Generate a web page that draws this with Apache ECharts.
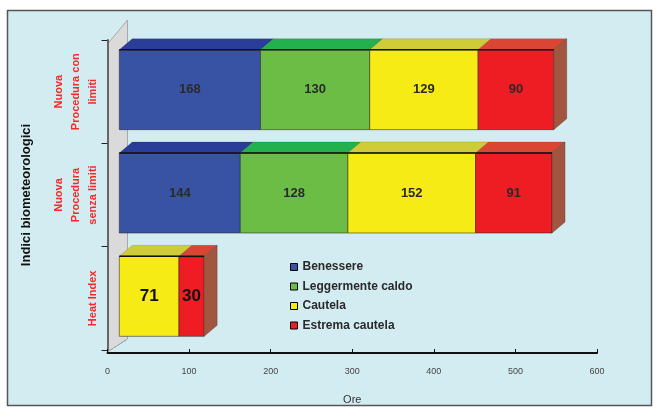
<!DOCTYPE html>
<html>
<head>
<meta charset="utf-8">
<script src="https://cdn.jsdelivr.net/npm/echarts@6/dist/echarts.min.js"></script>
<style>
html,body{margin:0;padding:0;background:#fff;}
#c{width:659px;height:410px;}
</style>
</head>
<body>
<div id="c"></div>
<script>
// ---- data ----
const categories = ['Heat Index', 'Nuova\nProcedura\nsenza limiti', 'Nuova\nProcedura con\nlimiti'];
const seriesNames = ['Benessere', 'Leggermente caldo', 'Cautela', 'Estrema cautela'];
const benessere  = [0, 144, 168];
const leggermente = [0, 128, 130];
const cautela    = [71, 152, 129];
const estrema    = [30, 91, 90];
const xTicks = [0, 100, 200, 300, 400, 500, 600];

// ---- style ----
const FRONT = ['#3853a4', '#6bbd45', '#f6eb14', '#ee1d24'];
const TOP   = ['#293d99', '#22b14c', '#cfcc3a', '#db4634'];
const SIDE  = '#a3563f';
const GRID = {left: 107.5, right: 62, top: 40, bottom: 60};
const OFFX = 11.8, DX = 13, DY = 11, K = 1.03;

const values = [benessere, leggermente, cautela, estrema];
// stack into [start, end, catIndex, value, isLast]
const stacked = values.map(() => []);
for (let c = 0; c < categories.length; c++) {
  let acc = 0, lastS = -1;
  for (let s = 0; s < values.length; s++) if (values[s][c] > 0) lastS = s;
  for (let s = 0; s < values.length; s++) {
    const v = values[s][c];
    if (v > 0) {
      stacked[s].push([acc, acc + v, c, v, s === lastS ? 1 : 0]);
      acc += v;
    }
  }
}

function makeRender(si) {
  return function (params, api) {
    const s = api.value(0), e = api.value(1), ci = api.value(2), v = api.value(3), last = api.value(4);
    const p0 = api.coord([0, ci]);
    const ps = api.coord([s, ci]);
    const pe = api.coord([e, ci]);
    const X0 = p0[0];
    const x1 = X0 + OFFX + (ps[0] - X0) * K;
    const x2 = X0 + OFFX + (pe[0] - X0) * K;
    const band = api.size([0, 1])[1];
    const hh = band * 0.387;
    const yc = ps[1] - 2;
    const yt = yc - hh, yb = yc + hh;
    const children = [];
    children.push({
      type: 'polygon',
      shape: {points: [[x1, yt], [x2, yt], [x2 + DX, yt - DY], [x1 + DX, yt - DY]]},
      style: {fill: TOP[si], stroke: 'rgba(0,0,0,0.25)', lineWidth: 0.5}
    });
    children.push({
      type: 'rect',
      shape: {x: x1, y: yt, width: x2 - x1, height: yb - yt},
      style: {fill: FRONT[si], stroke: 'rgba(40,40,40,0.7)', lineWidth: 0.8}
    });
    children.push({
      type: 'line',
      shape: {x1: x1, y1: yt, x2: x2, y2: yt},
      style: {stroke: '#111', lineWidth: 1.5}
    });
    if (last) {
      children.push({
        type: 'polygon',
        shape: {points: [[x2, yt], [x2 + DX, yt - DY], [x2 + DX, yb - DY], [x2, yb]]},
        style: {fill: SIDE, stroke: 'rgba(0,0,0,0.35)', lineWidth: 0.6}
      });
    }
    const big = ci === 0;
    children.push({
      type: 'text',
      x: (x1 + x2) / 2,
      y: yc,
      style: {
        text: String(v),
        align: 'center',
        verticalAlign: 'middle',
        fontSize: big ? 17 : 13,
        fontWeight: 'bold',
        fontFamily: 'Liberation Sans, Arial, sans-serif',
        fill: big ? '#111' : '#2a2a2a'
      }
    });
    return {type: 'group', children: children};
  };
}

const chart = echarts.init(document.getElementById('c'), null, {renderer: 'canvas'});

const X0 = GRID.left;
const plotBottom = 410 - GRID.bottom;
const WALL = 20;
const option = {
  backgroundColor: '#ffffff',
  animation: false,
  graphic: [
    {
      type: 'rect', z: -20, silent: true,
      shape: {x: 7.5, y: 10.5, width: 644, height: 395},
      style: {fill: '#d3ecf1', stroke: '#555', lineWidth: 1.5}
    },
    {
      type: 'polygon', z: -10, silent: true,
      shape: {points: [[X0, plotBottom + 2], [X0, GRID.top + 4], [X0 + WALL, GRID.top - 20], [X0 + WALL, plotBottom - 11]]},
      style: {fill: '#dadada', stroke: '#a8a8a8', lineWidth: 1}
    },
    {
      type: 'line', z: -9, silent: true,
      shape: {x1: X0, y1: plotBottom + 2, x2: X0 + WALL, y2: plotBottom - 11},
      style: {stroke: '#9a9a9a', lineWidth: 1, lineDash: [2, 2]}
    }
  ],
  legend: {
    orient: 'vertical',
    left: 285,
    top: 255,
    itemWidth: 7,
    itemHeight: 7,
    itemGap: 5.5,
    selectedMode: false,
    textStyle: {fontSize: 12, fontWeight: 'bold', color: '#2a2a2a', lineHeight: 14, fontFamily: 'Liberation Sans, Arial, sans-serif'},
    data: seriesNames.map((n, i) => ({name: n, icon: 'rect', itemStyle: {color: FRONT[i], borderColor: '#000', borderWidth: 1}}))
  },
  grid: GRID,
  xAxis: {
    type: 'value',
    min: xTicks[0],
    max: xTicks[xTicks.length - 1],
    interval: xTicks[1] - xTicks[0],
    offset: 3,
    axisLine: {show: true, lineStyle: {color: '#111', width: 2}},
    axisTick: {show: true, inside: true, length: 4, lineStyle: {color: '#111'}},
    splitLine: {show: false},
    axisLabel: {fontSize: 9, color: '#444', margin: 14, fontFamily: 'Liberation Sans, Arial, sans-serif'},
    name: 'Ore',
    nameLocation: 'middle',
    nameGap: 41,
    nameTextStyle: {fontSize: 11, color: '#333', fontFamily: 'Liberation Sans, Arial, sans-serif'}
  },
  yAxis: {
    type: 'category',
    data: categories,
    axisLine: {show: true, lineStyle: {color: '#666', width: 2}},
    axisTick: {show: true, length: 6, lineStyle: {color: '#222'}},
    axisLabel: {
      rotate: 90,
      align: 'center',
      verticalAlign: 'bottom',
      margin: 6,
      fontSize: 11,
      lineHeight: 17,
      fontWeight: 'bold',
      color: '#f52a2a',
      fontFamily: 'Liberation Sans, Arial, sans-serif'
    },
    name: 'Indici biometeorologici',
    nameLocation: 'middle',
    nameRotate: 90,
    nameGap: 75,
    nameTextStyle: {fontSize: 13, fontWeight: 'bold', color: '#111', fontFamily: 'Liberation Sans, Arial, sans-serif'}
  },
  series: seriesNames.map((n, i) => ({
    name: n,
    type: 'custom',
    renderItem: makeRender(i),
    itemStyle: {color: FRONT[i]},
    encode: {x: [0, 1], y: 2},
    data: stacked[i],
    z: 2
  }))
};
chart.setOption(option);
</script>
</body>
</html>
